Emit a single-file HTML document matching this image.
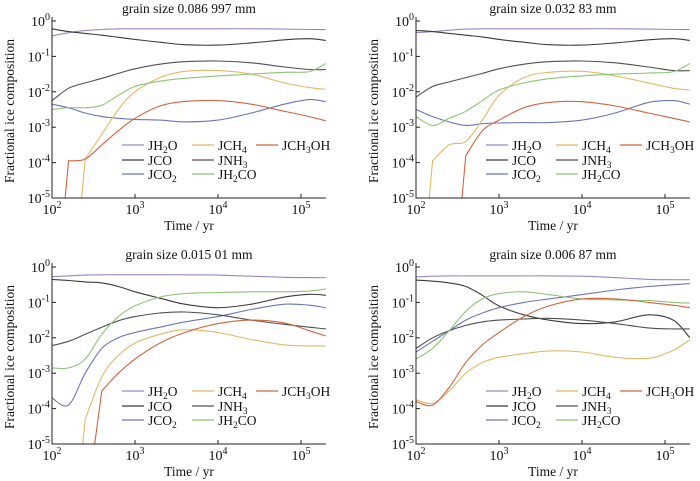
<!DOCTYPE html>
<html><head><meta charset="utf-8">
<style>
html,body{margin:0;padding:0;background:#fff;overflow:hidden;width:700px;height:481px;}
svg{display:block;}
svg text{font-family:"Liberation Serif",serif;fill:#111;}
</style></head>
<body>
<svg id="fig" width="700" height="481" viewBox="0 0 700 481" xmlns="http://www.w3.org/2000/svg"></svg>
<script>
// log10(time / yr) sample points
const times = [2, 2.2, 2.4, 2.6, 2.8, 3, 3.3, 3.6, 4, 4.4, 4.8, 5.1, 5.3];
const speciesNames = ["JH2O","JCO","JCO2","JCH4","JNH3","JH2CO","JCH3OH"];
const panelTitles = ["grain size 0.086 997 mm","grain size 0.032 83 mm","grain size 0.015 01 mm","grain size 0.006 87 mm"];
const xTicks = [2,3,4,5];
const yTicks = [0,-1,-2,-3,-4,-5];

// log10 fractional ice composition, panel 1
const p1H2O  = [-0.42,-0.33,-0.27,-0.24,-0.22,-0.22,-0.22,-0.22,-0.22,-0.22,-0.23,-0.24,-0.24];
const p1CO   = [-0.22,-0.3,-0.35,-0.4,-0.46,-0.52,-0.6,-0.67,-0.68,-0.62,-0.53,-0.5,-0.55];
const p1CO2  = [-2.35,-2.45,-2.6,-2.7,-2.75,-2.78,-2.8,-2.85,-2.8,-2.6,-2.35,-2.22,-2.28];
const p1CH4  = [-9,-9,-3.9,-3.2,-2.5,-2.0,-1.6,-1.42,-1.4,-1.5,-1.75,-1.88,-1.93];
const p1NH3  = [-2.25,-1.9,-1.75,-1.62,-1.48,-1.35,-1.22,-1.15,-1.13,-1.18,-1.3,-1.37,-1.37];
const p1H2CO = [-2.5,-2.45,-2.45,-2.38,-2.1,-1.85,-1.7,-1.62,-1.55,-1.5,-1.45,-1.43,-1.2];
const p1CH3OH= [-9,-3.95,-3.9,-3.5,-3.1,-2.75,-2.4,-2.27,-2.25,-2.35,-2.55,-2.7,-2.82];
// panel 2
const p2H2O  = [-0.33,-0.3,-0.26,-0.23,-0.22,-0.22,-0.22,-0.22,-0.22,-0.22,-0.23,-0.24,-0.24];
const p2CO   = [-0.27,-0.3,-0.35,-0.4,-0.45,-0.52,-0.6,-0.67,-0.68,-0.62,-0.53,-0.5,-0.55];
const p2CO2  = [-2.5,-2.7,-2.85,-2.95,-2.9,-2.88,-2.87,-2.87,-2.8,-2.6,-2.3,-2.25,-2.35];
const p2CH4  = [-9,-3.95,-3.5,-3.4,-2.8,-2.1,-1.6,-1.45,-1.42,-1.55,-1.75,-1.9,-1.95];
const p2NH3  = [-2.15,-1.85,-1.72,-1.6,-1.48,-1.35,-1.22,-1.15,-1.13,-1.18,-1.3,-1.4,-1.4];
const p2H2CO = [-2.7,-2.95,-2.75,-2.55,-2.25,-1.95,-1.75,-1.63,-1.55,-1.5,-1.47,-1.43,-1.2];
const p2CH3OH= [-9,-9,-9,-3.8,-3.1,-2.8,-2.45,-2.3,-2.28,-2.4,-2.6,-2.75,-2.85];
// panel 3
const p3H2O  = [-0.27,-0.25,-0.23,-0.22,-0.22,-0.22,-0.22,-0.22,-0.23,-0.26,-0.29,-0.3,-0.3];
const p3CO   = [-0.35,-0.38,-0.42,-0.45,-0.55,-0.7,-0.88,-1.05,-1.15,-1.05,-0.85,-0.77,-0.8];
const p3CO2  = [-3.7,-3.9,-3.0,-2.3,-2.0,-1.85,-1.7,-1.55,-1.4,-1.2,-1.05,-1.08,-1.15];
const p3CH4  = [-9,-9,-4.3,-3.1,-2.5,-2.15,-1.9,-1.77,-1.85,-2.05,-2.2,-2.23,-2.23];
const p3NH3  = [-2.22,-2.1,-1.9,-1.7,-1.52,-1.4,-1.3,-1.27,-1.35,-1.5,-1.62,-1.7,-1.75];
const p3H2CO = [-2.85,-2.85,-2.6,-1.9,-1.4,-1.1,-0.85,-0.75,-0.72,-0.7,-0.7,-0.68,-0.62];
const p3CH3OH= [-9,-9,-7,-3.5,-3.0,-2.6,-2.15,-1.85,-1.6,-1.5,-1.58,-1.8,-1.95];
// panel 4
const p4H2O  = [-0.28,-0.26,-0.25,-0.25,-0.25,-0.25,-0.25,-0.25,-0.26,-0.3,-0.35,-0.36,-0.36];
const p4CO   = [-0.37,-0.4,-0.45,-0.55,-0.8,-1.1,-1.35,-1.5,-1.6,-1.55,-1.35,-1.5,-2.0];
const p4CO2  = [-2.4,-2.1,-1.8,-1.5,-1.3,-1.15,-1.0,-0.9,-0.78,-0.65,-0.55,-0.5,-0.47];
const p4CH4  = [-3.75,-3.85,-3.5,-3.0,-2.7,-2.55,-2.45,-2.37,-2.4,-2.55,-2.58,-2.35,-2.05];
const p4NH3  = [-2.3,-2.0,-1.8,-1.65,-1.55,-1.5,-1.47,-1.45,-1.5,-1.6,-1.72,-1.75,-1.75];
const p4H2CO = [-2.6,-2.3,-1.8,-1.25,-0.9,-0.75,-0.7,-0.78,-0.9,-0.93,-0.95,-1.0,-1.02];
const p4CH3OH= [-3.8,-3.9,-3.4,-2.7,-2.2,-1.85,-1.4,-1.1,-0.9,-0.9,-1.0,-1.08,-1.15];

const panelSeries = [
  [p1H2O,p1CO,p1CO2,p1CH4,p1NH3,p1H2CO,p1CH3OH],
  [p2H2O,p2CO,p2CO2,p2CH4,p2NH3,p2H2CO,p2CH3OH],
  [p3H2O,p3CO,p3CO2,p3CH4,p3NH3,p3H2CO,p3CH3OH],
  [p4H2O,p4CO,p4CO2,p4CH4,p4NH3,p4H2CO,p4CH3OH]
];

const colors = ["#9b86c4","#3a3a3a","#6a76b8","#e2b867","#505050","#8ec475","#d2643f"];
const origins = [[52,21],[416,21],[52,267],[416,267]];
const XDEC = 83, YDEC = 35.4, XMAX = 5.3;
const NS = "http://www.w3.org/2000/svg";
const svg = document.getElementById("fig");
function mk(tag, attrs, parent){const e=document.createElementNS(NS,tag);for(const k in attrs)e.setAttribute(k,attrs[k]);(parent||svg).appendChild(e);return e;}
function pow10(parent, x, y, exp, anchor){
  const t = mk("text",{x:x,y:y,"font-size":"14","text-anchor":anchor},parent);
  t.appendChild(document.createTextNode("10"));
  const s = mk("tspan",{dy:"-6","font-size":"10"},t);
  s.textContent = String(exp);
  return t;
}
function smoothPath(pts, raw){
  let d = "M"+pts[0][0].toFixed(1)+","+pts[0][1].toFixed(1);
  for(let i=0;i<pts.length-1;i++){
    const p1=pts[i],p2=pts[i+1];
    if(raw[i] <= -6 || raw[i+1] <= -6){ d+=" L"+p2[0].toFixed(1)+","+p2[1].toFixed(1); continue; }
    const p0 = (i>0 && raw[i-1] > -6) ? pts[i-1] : p1;
    const p3 = (i+2<pts.length && raw[i+2] > -6) ? pts[i+2] : p2;
    const c1=[p1[0]+(p2[0]-p0[0])/6,p1[1]+(p2[1]-p0[1])/6];
    const c2=[p2[0]-(p3[0]-p1[0])/6,p2[1]-(p3[1]-p1[1])/6];
    d+=" C"+c1[0].toFixed(1)+","+c1[1].toFixed(1)+" "+c2[0].toFixed(1)+","+c2[1].toFixed(1)+" "+p2[0].toFixed(1)+","+p2[1].toFixed(1);
  }
  return d;
}
const legendLabels = [["JH","2","O"],["JCO","",""],["JCO","2",""],["JCH","4",""],["JNH","3",""],["JH","2","CO"],["JCH","3","OH"]];

panelSeries.forEach((series, pi) => {
  const [x0,y0] = origins[pi];
  const xs = v => x0 + (v-2)*XDEC;
  const ys = v => y0 - v*YDEC;
  const xEnd = xs(XMAX), yBot = ys(-5);
  const g = mk("g",{});
  
  
  const title = mk("text",{x:(x0+xEnd)/2,y:y0-8,"font-size":"13.5","text-anchor":"middle"},g);
  title.textContent = panelTitles[pi];
  
  
  const yl = mk("text",{x:0,y:0,"font-size":"13.5","text-anchor":"middle",transform:"translate("+(x0-38)+","+(y0+90)+") rotate(-90)"},g);
  yl.textContent = "Fractional ice composition";
  
  
  const xl = mk("text",{x:(x0+xEnd)/2,y:yBot+32,"font-size":"13.5","text-anchor":"middle"},g);
  xl.textContent = "Time / yr";
  
  
  const cp = mk("clipPath",{id:"clip"+pi},g);
  mk("rect",{x:x0,y:y0-3,width:xEnd-x0,height:yBot-y0+3},cp);
  const lg = mk("g",{"clip-path":"url(#clip"+pi+")"},g);
  series.forEach((vals, si) => {
    const pts = times.map((t,i)=>[xs(t), ys(Math.max(vals[i],-9))]);
    const p = mk("path",{d:smoothPath(pts, vals),fill:"none",stroke:colors[si],"stroke-width":"1.1"},lg);
    
    
  });
  const ax = mk("path",{d:"M"+x0+","+(y0-4)+" V"+yBot+" H"+xEnd,fill:"none",stroke:"#222","stroke-width":"1"},g);
  
  
  xTicks.forEach(t=>{
    const x = xs(t);
    mk("line",{x1:x,x2:x,y1:yBot,y2:yBot-4,stroke:"#222"},g);
    const lab = pow10(g, x, yBot+16, t, "middle");
    
    
  });
  yTicks.forEach(t=>{
    const y = ys(t);
    mk("line",{x1:x0,x2:x0+4,y1:y,y2:y,stroke:"#222"},g);
    const lab = pow10(g, x0-2, y+5, t, "end");
    
    
  });
  const colX = [x0+70, x0+140, x0+204];
  const rowY = [y0+124, y0+139, y0+153];
  const order = [[0,0,0],[1,0,1],[2,0,2],[3,1,0],[4,1,1],[5,1,2],[6,2,0]];
  order.forEach(([si,c,r])=>{
    const le = mk("g",{},g);
    
    
    mk("line",{x1:colX[c],x2:colX[c]+22,y1:rowY[r],y2:rowY[r],stroke:colors[si],"stroke-width":"1.3"},le);
    const tx = mk("text",{x:colX[c]+26,y:rowY[r]+5,"font-size":"13.5"},le);
    const L = legendLabels[si];
    tx.appendChild(document.createTextNode(L[0]));
    if(L[1]){const s=mk("tspan",{dy:"3","font-size":"9.5"},tx);s.textContent=L[1];
      if(L[2]){const s2=mk("tspan",{dy:"-3"},tx);s2.textContent=L[2];}}
  });
});
</script>
</body></html>
